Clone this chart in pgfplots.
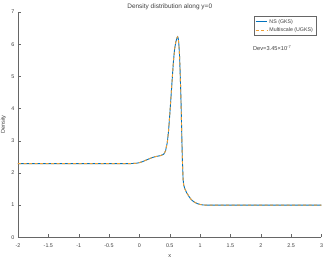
\documentclass[border=0pt]{standalone}
\usepackage{pgfplots}
\pgfplotsset{compat=1.18}
\usetikzlibrary{calc}
\usepackage{fontspec}
\setmainfont{Liberation Sans}
\definecolor{mblue}{rgb}{0,0.447,0.741}
\definecolor{morange}{rgb}{0.93,0.62,0.2}
\definecolor{axgray}{rgb}{0.4,0.4,0.4}
\definecolor{txgray}{rgb}{0.25,0.25,0.25}
\begin{document}
\begin{tikzpicture}
\begin{axis}[
  name=ax,
  scale only axis,
  width=303.5bp, height=225.3bp,
  xmin=-2, xmax=3, ymin=0, ymax=7,
  axis x line*=bottom, axis y line*=left,
  axis line style={axgray, line width=0.4pt, -},
  tick align=inside,
  major tick length=3bp,
  tick style={axgray, line width=0.4pt},
  xtick={-2,-1.5,...,3},
  ytick={0,1,...,7},
  xticklabels={-2,-1.5,-1,-0.5,0,0.5,1,1.5,2,2.5,3},
  /pgf/number format/assume math mode=true,
  ticklabel style={font=\fontsize{5.4}{6}\selectfont, text=txgray},
  xticklabel style={yshift=-2.5bp},
  yticklabel style={xshift=0bp},
  xlabel={x}, ylabel={Density},
  label style={font=\fontsize{5.6}{6.5}\selectfont, text=txgray},
  xlabel style={yshift=-1bp},
  ylabel style={yshift=-1.5bp},
  title={Density distribution along y=0},
  title style={font=\fontsize{6.5}{7.5}\selectfont, text=txgray, yshift=-7.5bp},
  legend style={at={(0.982,0.982)}, anchor=north east, draw=axgray, line width=0.3pt,
    font=\fontsize{5.3}{6}\selectfont, text=txgray, inner sep=1bp, row sep=-1.2bp,
    legend cell align=left},
  legend image code/.code={\draw[#1] (0cm,0cm) -- (0.4cm,0cm);},
]
\addplot[mblue, line width=0.9bp] coordinates {
(-2,2.29) (-1,2.29) (-0.15,2.29) (-0.05,2.30) (0,2.32) (0.05,2.35) (0.1,2.39) (0.15,2.43)
(0.2,2.47) (0.25,2.50) (0.3,2.52) (0.35,2.54) (0.4,2.58) (0.43,2.68) (0.46,2.95) (0.48,3.3)
(0.50,3.8) (0.52,4.35) (0.54,4.9) (0.56,5.45) (0.58,5.85) (0.60,6.07) (0.62,6.2) (0.63,6.23)
(0.64,6.18) (0.65,6.0) (0.66,5.7) (0.67,5.2) (0.68,4.6) (0.69,3.9) (0.70,3.0) (0.71,2.3)
(0.72,1.8) (0.73,1.62) (0.75,1.5) (0.78,1.38) (0.82,1.26) (0.86,1.16) (0.90,1.10) (0.95,1.05)
(1.0,1.02) (1.05,1.005) (1.1,1.0) (2,1.0) (3,1.0)
};
\addlegendentry{NS (GKS)}
\addplot[morange, line width=0.9bp, dash pattern=on 3bp off 2.5bp] coordinates {
(-2,2.29) (-1,2.29) (-0.15,2.29) (-0.05,2.30) (0,2.32) (0.05,2.35) (0.1,2.39) (0.15,2.43)
(0.2,2.47) (0.25,2.50) (0.3,2.52) (0.35,2.54) (0.4,2.58) (0.43,2.68) (0.46,2.95) (0.48,3.3)
(0.50,3.8) (0.52,4.35) (0.54,4.9) (0.56,5.45) (0.58,5.85) (0.60,6.07) (0.62,6.2) (0.63,6.23)
(0.64,6.18) (0.65,6.0) (0.66,5.7) (0.67,5.2) (0.68,4.6) (0.69,3.9) (0.70,3.0) (0.71,2.3)
(0.72,1.8) (0.73,1.62) (0.75,1.5) (0.78,1.38) (0.82,1.26) (0.86,1.16) (0.90,1.10) (0.95,1.05)
(1.0,1.02) (1.05,1.005) (1.1,1.0) (2,1.0) (3,1.0)
};
\addlegendentry{Multiscale (UGKS)}
\node[anchor=west, font=\fontsize{5.7}{6.5}\selectfont, text=txgray, inner sep=0pt]
  at (rel axis cs:0.774,0.84) {Dev=3.45{\texttimes}10\textsuperscript{-7}};
\end{axis}
\pgfresetboundingbox
\useasboundingbox ($(ax.south west)+(-18bp,-21.7bp)$) rectangle ($(ax.north east)+(10.5bp,12bp)$);
\end{tikzpicture}
\end{document}
